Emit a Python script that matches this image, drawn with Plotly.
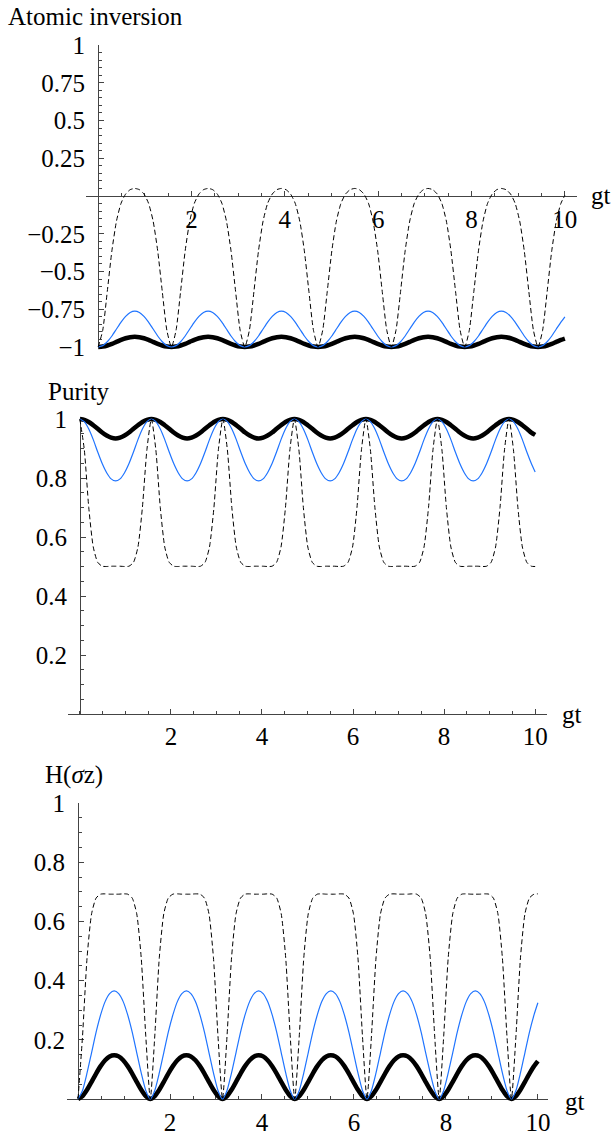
import plotly.graph_objects as go

# ---------------- data ----------------
gt = [
    0.000, 0.098, 0.196, 0.295, 0.393, 0.491, 0.589, 0.687, 0.785, 0.884, 0.982, 1.080, 1.178, 1.276, 1.374, 1.473,
    1.571, 1.669, 1.767, 1.865, 1.963, 2.062, 2.160, 2.258, 2.356, 2.454, 2.553, 2.651, 2.749, 2.847, 2.945, 3.043,
    3.142, 3.240, 3.338, 3.436, 3.534, 3.632, 3.731, 3.829, 3.927, 4.025, 4.123, 4.222, 4.320, 4.418, 4.516, 4.614,
    4.712, 4.811, 4.909, 5.007, 5.105, 5.203, 5.301, 5.400, 5.498, 5.596, 5.694, 5.792, 5.890, 5.989, 6.087, 6.185,
    6.283, 6.381, 6.480, 6.578, 6.676, 6.774, 6.872, 6.970, 7.069, 7.167, 7.265, 7.363, 7.461, 7.559, 7.658, 7.756,
    7.854, 7.952, 8.050, 8.149, 8.247, 8.345, 8.443, 8.541, 8.639, 8.738, 8.836, 8.934, 9.032, 9.130, 9.228, 9.327,
    9.425, 9.523, 9.621, 9.719, 9.817, 9.916, 10.0,
]

inversion_dashed = [
    -1, -0.890, -0.632, -0.363, -0.166, -0.048, 0.013, 0.042, 0.050, 0.042, 0.013, -0.048, -0.166, -0.363, -0.632, -0.890,
    -1, -0.890, -0.632, -0.363, -0.166, -0.048, 0.013, 0.042, 0.050, 0.042, 0.013, -0.048, -0.166, -0.363, -0.632, -0.890,
    -1, -0.890, -0.632, -0.363, -0.166, -0.048, 0.013, 0.042, 0.050, 0.042, 0.013, -0.048, -0.166, -0.363, -0.632, -0.890,
    -1, -0.890, -0.632, -0.363, -0.166, -0.048, 0.013, 0.042, 0.050, 0.042, 0.013, -0.048, -0.166, -0.363, -0.632, -0.890,
    -1, -0.890, -0.632, -0.363, -0.166, -0.048, 0.013, 0.042, 0.050, 0.042, 0.013, -0.048, -0.166, -0.363, -0.632, -0.890,
    -1, -0.890, -0.632, -0.363, -0.166, -0.048, 0.013, 0.042, 0.050, 0.042, 0.013, -0.048, -0.166, -0.363, -0.632, -0.890,
    -1, -0.890, -0.632, -0.363, -0.166, -0.048, 0.004,
]
inversion_blue = [
    -1, -0.991, -0.965, -0.927, -0.881, -0.835, -0.797, -0.771, -0.762, -0.771, -0.797, -0.835, -0.881, -0.927, -0.965, -0.991,
    -1, -0.991, -0.965, -0.927, -0.881, -0.835, -0.797, -0.771, -0.762, -0.771, -0.797, -0.835, -0.881, -0.927, -0.965, -0.991,
    -1, -0.991, -0.965, -0.927, -0.881, -0.835, -0.797, -0.771, -0.762, -0.771, -0.797, -0.835, -0.881, -0.927, -0.965, -0.991,
    -1, -0.991, -0.965, -0.927, -0.881, -0.835, -0.797, -0.771, -0.762, -0.771, -0.797, -0.835, -0.881, -0.927, -0.965, -0.991,
    -1, -0.991, -0.965, -0.927, -0.881, -0.835, -0.797, -0.771, -0.762, -0.771, -0.797, -0.835, -0.881, -0.927, -0.965, -0.991,
    -1, -0.991, -0.965, -0.927, -0.881, -0.835, -0.797, -0.771, -0.762, -0.771, -0.797, -0.835, -0.881, -0.927, -0.965, -0.991,
    -1, -0.991, -0.965, -0.927, -0.881, -0.835, -0.800,
]
inversion_black = [
    -1, -0.997, -0.990, -0.979, -0.966, -0.953, -0.942, -0.935, -0.932, -0.935, -0.942, -0.953, -0.966, -0.979, -0.990, -0.997,
    -1, -0.997, -0.990, -0.979, -0.966, -0.953, -0.942, -0.935, -0.932, -0.935, -0.942, -0.953, -0.966, -0.979, -0.990, -0.997,
    -1, -0.997, -0.990, -0.979, -0.966, -0.953, -0.942, -0.935, -0.932, -0.935, -0.942, -0.953, -0.966, -0.979, -0.990, -0.997,
    -1, -0.997, -0.990, -0.979, -0.966, -0.953, -0.942, -0.935, -0.932, -0.935, -0.942, -0.953, -0.966, -0.979, -0.990, -0.997,
    -1, -0.997, -0.990, -0.979, -0.966, -0.953, -0.942, -0.935, -0.932, -0.935, -0.942, -0.953, -0.966, -0.979, -0.990, -0.997,
    -1, -0.997, -0.990, -0.979, -0.966, -0.953, -0.942, -0.935, -0.932, -0.935, -0.942, -0.953, -0.966, -0.979, -0.990, -0.997,
    -1, -0.997, -0.990, -0.979, -0.966, -0.953, -0.944,
]

purity_dashed = [
    1, 0.896, 0.700, 0.566, 0.514, 0.501, 0.500, 0.501, 0.501, 0.501, 0.500, 0.501, 0.514, 0.566, 0.700, 0.896,
    1, 0.896, 0.700, 0.566, 0.514, 0.501, 0.500, 0.501, 0.501, 0.501, 0.500, 0.501, 0.514, 0.566, 0.700, 0.896,
    1, 0.896, 0.700, 0.566, 0.514, 0.501, 0.500, 0.501, 0.501, 0.501, 0.500, 0.501, 0.514, 0.566, 0.700, 0.896,
    1, 0.896, 0.700, 0.566, 0.514, 0.501, 0.500, 0.501, 0.501, 0.501, 0.500, 0.501, 0.514, 0.566, 0.700, 0.896,
    1, 0.896, 0.700, 0.566, 0.514, 0.501, 0.500, 0.501, 0.501, 0.501, 0.500, 0.501, 0.514, 0.566, 0.700, 0.896,
    1, 0.896, 0.700, 0.566, 0.514, 0.501, 0.500, 0.501, 0.501, 0.501, 0.500, 0.501, 0.514, 0.566, 0.700, 0.896,
    1, 0.896, 0.700, 0.566, 0.514, 0.501, 0.500,
]
purity_blue = [
    1, 0.991, 0.966, 0.930, 0.888, 0.849, 0.818, 0.797, 0.790, 0.797, 0.818, 0.849, 0.888, 0.930, 0.966, 0.991,
    1, 0.991, 0.966, 0.930, 0.888, 0.849, 0.818, 0.797, 0.790, 0.797, 0.818, 0.849, 0.888, 0.930, 0.966, 0.991,
    1, 0.991, 0.966, 0.930, 0.888, 0.849, 0.818, 0.797, 0.790, 0.797, 0.818, 0.849, 0.888, 0.930, 0.966, 0.991,
    1, 0.991, 0.966, 0.930, 0.888, 0.849, 0.818, 0.797, 0.790, 0.797, 0.818, 0.849, 0.888, 0.930, 0.966, 0.991,
    1, 0.991, 0.966, 0.930, 0.888, 0.849, 0.818, 0.797, 0.790, 0.797, 0.818, 0.849, 0.888, 0.930, 0.966, 0.991,
    1, 0.991, 0.966, 0.930, 0.888, 0.849, 0.818, 0.797, 0.790, 0.797, 0.818, 0.849, 0.888, 0.930, 0.966, 0.991,
    1, 0.991, 0.966, 0.930, 0.888, 0.849, 0.820,
]
purity_black = [
    1, 0.997, 0.990, 0.979, 0.967, 0.954, 0.944, 0.937, 0.934, 0.937, 0.944, 0.954, 0.967, 0.979, 0.990, 0.997,
    1, 0.997, 0.990, 0.979, 0.967, 0.954, 0.944, 0.937, 0.934, 0.937, 0.944, 0.954, 0.967, 0.979, 0.990, 0.997,
    1, 0.997, 0.990, 0.979, 0.967, 0.954, 0.944, 0.937, 0.934, 0.937, 0.944, 0.954, 0.967, 0.979, 0.990, 0.997,
    1, 0.997, 0.990, 0.979, 0.967, 0.954, 0.944, 0.937, 0.934, 0.937, 0.944, 0.954, 0.967, 0.979, 0.990, 0.997,
    1, 0.997, 0.990, 0.979, 0.967, 0.954, 0.944, 0.937, 0.934, 0.937, 0.944, 0.954, 0.967, 0.979, 0.990, 0.997,
    1, 0.997, 0.990, 0.979, 0.967, 0.954, 0.944, 0.937, 0.934, 0.937, 0.944, 0.954, 0.967, 0.979, 0.990, 0.997,
    1, 0.997, 0.990, 0.979, 0.967, 0.954, 0.946,
]

entropy_dashed = [
    0, 0.213, 0.477, 0.626, 0.679, 0.692, 0.693, 0.692, 0.692, 0.692, 0.693, 0.692, 0.679, 0.626, 0.477, 0.213,
    0, 0.213, 0.477, 0.626, 0.679, 0.692, 0.693, 0.692, 0.692, 0.692, 0.693, 0.692, 0.679, 0.626, 0.477, 0.213,
    0, 0.213, 0.477, 0.626, 0.679, 0.692, 0.693, 0.692, 0.692, 0.692, 0.693, 0.692, 0.679, 0.626, 0.477, 0.213,
    0, 0.213, 0.477, 0.626, 0.679, 0.692, 0.693, 0.692, 0.692, 0.692, 0.693, 0.692, 0.679, 0.626, 0.477, 0.213,
    0, 0.213, 0.477, 0.626, 0.679, 0.692, 0.693, 0.692, 0.692, 0.692, 0.693, 0.692, 0.679, 0.626, 0.477, 0.213,
    0, 0.213, 0.477, 0.626, 0.679, 0.692, 0.693, 0.692, 0.692, 0.692, 0.693, 0.692, 0.679, 0.626, 0.477, 0.213,
    0, 0.213, 0.477, 0.626, 0.679, 0.692, 0.693,
]
entropy_blue = [
    0, 0.029, 0.088, 0.157, 0.226, 0.284, 0.329, 0.356, 0.365, 0.356, 0.329, 0.284, 0.226, 0.157, 0.088, 0.029,
    0, 0.029, 0.088, 0.157, 0.226, 0.284, 0.329, 0.356, 0.365, 0.356, 0.329, 0.284, 0.226, 0.157, 0.088, 0.029,
    0, 0.029, 0.088, 0.157, 0.226, 0.284, 0.329, 0.356, 0.365, 0.356, 0.329, 0.284, 0.226, 0.157, 0.088, 0.029,
    0, 0.029, 0.088, 0.157, 0.226, 0.284, 0.329, 0.356, 0.365, 0.356, 0.329, 0.284, 0.226, 0.157, 0.088, 0.029,
    0, 0.029, 0.088, 0.157, 0.226, 0.284, 0.329, 0.356, 0.365, 0.356, 0.329, 0.284, 0.226, 0.157, 0.088, 0.029,
    0, 0.029, 0.088, 0.157, 0.226, 0.284, 0.329, 0.356, 0.365, 0.356, 0.329, 0.284, 0.226, 0.157, 0.088, 0.029,
    0, 0.029, 0.088, 0.157, 0.226, 0.284, 0.325,
]
entropy_black = [
    0, 0.010, 0.031, 0.058, 0.086, 0.111, 0.131, 0.144, 0.148, 0.144, 0.131, 0.111, 0.086, 0.058, 0.031, 0.010,
    0, 0.010, 0.031, 0.058, 0.086, 0.111, 0.131, 0.144, 0.148, 0.144, 0.131, 0.111, 0.086, 0.058, 0.031, 0.010,
    0, 0.010, 0.031, 0.058, 0.086, 0.111, 0.131, 0.144, 0.148, 0.144, 0.131, 0.111, 0.086, 0.058, 0.031, 0.010,
    0, 0.010, 0.031, 0.058, 0.086, 0.111, 0.131, 0.144, 0.148, 0.144, 0.131, 0.111, 0.086, 0.058, 0.031, 0.010,
    0, 0.010, 0.031, 0.058, 0.086, 0.111, 0.131, 0.144, 0.148, 0.144, 0.131, 0.111, 0.086, 0.058, 0.031, 0.010,
    0, 0.010, 0.031, 0.058, 0.086, 0.111, 0.131, 0.144, 0.148, 0.144, 0.131, 0.111, 0.086, 0.058, 0.031, 0.010,
    0, 0.010, 0.031, 0.058, 0.086, 0.111, 0.128,
]

x_tickvals = [2, 4, 6, 8, 10]
x_ticktext = ["2", "4", "6", "8", "10"]
inv_tickvals = [-1, -0.75, -0.5, -0.25, 0.25, 0.5, 0.75, 1]
inv_ticktext = ["\u22121", "\u22120.75", "\u22120.5", "\u22120.25", "0.25", "0.5", "0.75", "1"]
pos_tickvals = [0.2, 0.4, 0.6, 0.8, 1]
pos_ticktext = ["0.2", "0.4", "0.6", "0.8", "1"]

panel_titles = ["Atomic inversion", "Purity", "H(<i>\u03c3</i>z)"]
x_label = "gt"

# ---------------- styling / layout ----------------
W, H = 613, 1135
FONT = "Liberation Serif, Times New Roman, serif"
FS = 25
AXC = "#444444"
BLUE = "#1f74ff"


def px(x):
    return x / W


def py(y):
    return 1 - y / H


def vis_x(dom_px, rng, **kw):
    d = dict(domain=[px(dom_px[0]), px(dom_px[1])], range=rng, showgrid=False, zeroline=False,
             automargin=False,
             showline=True, linecolor=AXC, linewidth=1, ticks="inside", ticklen=5, tickwidth=1,
             tickcolor=AXC, tickmode="array", tickvals=x_tickvals, ticktext=x_ticktext,
             tickfont=dict(family=FONT, size=FS, color="black"),
             minor=dict(tickmode="linear", tick0=0, dtick=0.5, ticks="inside", ticklen=3,
                        tickcolor=AXC, tickwidth=1, showgrid=False))
    d.update(kw)
    return d


def vis_y(dom_px, rng, tv, tt, **kw):
    d = dict(domain=[py(dom_px[0]), py(dom_px[1])], range=rng, showgrid=False, zeroline=False,
             automargin=False,
             showline=True, linecolor=AXC, linewidth=1, ticks="inside", ticklen=5, tickwidth=1,
             tickcolor=AXC, tickmode="array", tickvals=tv, ticktext=tt,
             tickfont=dict(family=FONT, size=FS, color="black"),
             minor=dict(tickmode="linear", tick0=0, dtick=0.05, ticks="inside", ticklen=3,
                        tickcolor=AXC, tickwidth=1, showgrid=False))
    d.update(kw)
    return d


def data_axes(xdom_px, xr, ydom_px, yr, anchor_x, anchor_y, pad=8):
    # invisible axes with the same scale as the visible ones, but a larger
    # clip area so thick lines at the range edges are not cut
    xd = [px(xdom_px[0]), px(xdom_px[1])]
    yd = [py(ydom_px[0]), py(ydom_px[1])]
    pdy = pad / H
    dy = pdy / (yd[1] - yd[0]) * (yr[1] - yr[0])
    xa = dict(domain=xd, range=xr, visible=False, anchor=anchor_y, automargin=False)
    ya = dict(domain=[yd[0] - pdy, yd[1] + pdy], range=[yr[0] - dy, yr[1] + dy],
              visible=False, anchor=anchor_x, automargin=False)
    return xa, ya


# panel geometry (pixels)
P1 = dict(xdom=(86, 577), xr=[-0.26, 10.26], ydom=(347, 45), yr=[-1, 1])
P2 = dict(xdom=(68, 547), xr=[-0.26, 10.26], ydom=(714, 419), yr=[0, 1])
P3 = dict(xdom=(67, 548), xr=[-0.24, 10.22], ydom=(1099, 803), yr=[0, 1])

fig = go.Figure()

# empty traces so that the visible axis pairs form subplots and get drawn
for xa, ya in (("x", "y"), ("x2", "y2"), ("x3", "y3")):
    fig.add_trace(go.Scatter(x=[None], y=[None], mode="lines", xaxis=xa, yaxis=ya,
                             hoverinfo="skip", showlegend=False))

series = [
    ("x4", "y4", inversion_black, inversion_blue, inversion_dashed),
    ("x5", "y5", purity_black, purity_blue, purity_dashed),
    ("x6", "y6", entropy_black, entropy_blue, entropy_dashed),
]
for xa, ya, blk, blu, dsh in series:
    fig.add_trace(go.Scatter(x=gt, y=blk, mode="lines", xaxis=xa, yaxis=ya,
                             line=dict(color="black", width=4.5, shape="spline", smoothing=0.6),
                             hoverinfo="skip"))
    fig.add_trace(go.Scatter(x=gt, y=blu, mode="lines", xaxis=xa, yaxis=ya,
                             line=dict(color=BLUE, width=1.2, shape="spline", smoothing=0.6),
                             hoverinfo="skip"))
    fig.add_trace(go.Scatter(x=gt, y=dsh, mode="lines", xaxis=xa, yaxis=ya,
                             line=dict(color="black", width=1, dash="5px,3px", shape="spline", smoothing=0.6),
                             hoverinfo="skip"))

layout = dict(
    width=W, height=H, margin=dict(l=0, r=0, t=0, b=0, autoexpand=False),
    paper_bgcolor="white", plot_bgcolor="rgba(0,0,0,0)", showlegend=False,
    font=dict(family=FONT, size=FS, color="black"),
)

# visible axes
layout["xaxis"] = vis_x(P1["xdom"], P1["xr"], anchor="free", position=py(196), ticklabelstandoff=1)
layout["yaxis"] = vis_y(P1["ydom"], P1["yr"], inv_tickvals, inv_ticktext, anchor="free",
                        position=px(98), ticklabelstandoff=8)
layout["xaxis2"] = vis_x(P2["xdom"], P2["xr"], anchor="y2", ticklabelstandoff=0)
layout["yaxis2"] = vis_y(P2["ydom"], P2["yr"], pos_tickvals, pos_ticktext, anchor="free",
                         position=px(80), ticklabelstandoff=8)
layout["xaxis3"] = vis_x(P3["xdom"], P3["xr"], anchor="y3", ticklabelstandoff=1)
layout["yaxis3"] = vis_y(P3["ydom"], P3["yr"], pos_tickvals, pos_ticktext, anchor="free",
                         position=px(78), ticklabelstandoff=8)

# data axes
for i, P in zip((4, 5, 6), (P1, P2, P3)):
    xa, ya = data_axes(P["xdom"], P["xr"], P["ydom"], P["yr"], "x%d" % i, "y%d" % i)
    layout["xaxis%d" % i] = xa
    layout["yaxis%d" % i] = ya

fig.update_layout(**layout)

# titles and axis labels
title_pos = [(6, 17), (46, 391), (43, 775)]
for (tx, ty), t in zip(title_pos, panel_titles):
    fig.add_annotation(x=px(tx), y=py(ty), xref="paper", yref="paper", text=t, showarrow=False,
                       xanchor="left", yanchor="middle", font=dict(family=FONT, size=FS, color="black"))
for (gx, gy) in [(601, 195), (572, 714), (575, 1101)]:
    fig.add_annotation(x=px(gx), y=py(gy), xref="paper", yref="paper", text=x_label, showarrow=False,
                       xanchor="center", yanchor="middle", font=dict(family=FONT, size=FS, color="black"))

fig.write_html("out.html", config={"displayModeBar": False},
               post_script="document.body.style.margin='0px';")
